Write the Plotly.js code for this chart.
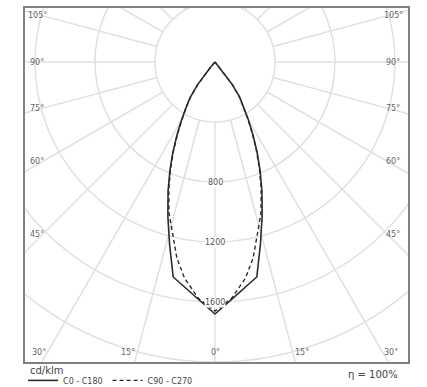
<!DOCTYPE html>
<html><head><meta charset="utf-8">
<script src="https://cdn.plot.ly/plotly-3.0.1.min.js"></script>
<style>html,body{margin:0;padding:0;background:#fff}</style>
</head><body><div id="chart" style="width:427px;height:387px"></div>
<script>
// gamma angles (deg) and luminous intensity (cd/klm)
const gammaDeg = [0, 4, 8, 11, 14, 17, 20, 22.5, 25, 27.5, 30, 32.5, 35, 37.5, 40, 42.5];
const c0c180  = [1680, 1586, 1508, 1460, 1252, 1075, 915, 786, 665, 549, 445, 357, 288, 190, 50, 0];
const c90c270 = [1660, 1580, 1456, 1332, 1174, 1050, 900, 775, 655, 540, 438, 352, 282, 185, 48, 0];
const radialRings = [400, 800, 1200, 1600, 2000, 2400];
const radialLabels = [800, 1200, 1600];
const spokeAngles = [0,15,30,45,60,75,90,105,120,135,150,165,180,195,210,225,240,255,270,285,300,315,330,345];
const angleLabels = [0, 15, 30, 45, 60, 75, 90, 105];
const seriesNames = ['C0 - C180', 'C90 - C270'];

const PX = 0.15; // px per cd/klm unit (used only for label placement)
const rad = d => d * Math.PI / 180;

function planeXY(vals) {
  const x = [], y = [];
  for (let i = gammaDeg.length - 1; i >= 0; i--) { // C180 side (left)
    x.push(-vals[i] * Math.sin(rad(gammaDeg[i]))); y.push(-vals[i] * Math.cos(rad(gammaDeg[i])));
  }
  for (let i = 1; i < gammaDeg.length; i++) {       // C0 side (right)
    x.push(vals[i] * Math.sin(rad(gammaDeg[i]))); y.push(-vals[i] * Math.cos(rad(gammaDeg[i])));
  }
  return {x, y};
}

const gridCol = '#e0e0e0';
const sx = [], sy = [];
spokeAngles.forEach(a => {
  const s = Math.sin(rad(a)), c = -Math.cos(rad(a));
  sx.push(400 * s, 3200 * s, null); sy.push(400 * c, 3200 * c, null);
});

const p1 = planeXY(c0c180), p2 = planeXY(c90c270);
const traces = [
  {x: sx, y: sy, mode: 'lines', line: {color: gridCol, width: 1.5}, hoverinfo: 'skip', showlegend: false},
  {x: p1.x, y: p1.y, mode: 'lines', name: seriesNames[0], line: {color: '#2b2b2b', width: 1.6}},
  {x: p2.x, y: p2.y, mode: 'lines', name: seriesNames[1], line: {color: '#2b2b2b', width: 1.4, dash: '4px,3px'}}
];

const shapes = radialRings.map(r => ({type: 'circle', xref: 'x', yref: 'y', x0: -r, x1: r, y0: -r, y1: r,
  line: {color: gridCol, width: 1.5}, layer: 'below'}));

const annotations = [];
radialLabels.forEach(r => annotations.push({x: 0, y: -r, xref: 'x', yref: 'y', text: String(r), showarrow: false,
  bgcolor: '#ffffff', borderpad: 0, font: {size: 8, color: '#555'}}));

const lblFont = {size: 8, color: '#666'};
angleLabels.forEach(a => {
  [-1, 1].forEach(side => {
    if (a === 0 && side === 1) return;
    let x, y, xa = 'center';
    if (a <= 30) {
      y = -290 / PX;
      x = side * Math.min(290 * Math.tan(rad(a)), 168) / PX;
      if (a > 0) xa = side < 0 ? 'right' : 'left';
    } else {
      y = (-172 / Math.tan(rad(a))) / PX;
      x = side * 178 / PX;
    }
    annotations.push({x, y, xref: 'x', yref: 'y', text: a + '°', showarrow: false, xanchor: xa, font: lblFont});
  });
});
annotations.push({xref: 'paper', yref: 'paper', x: 0.008, y: -0.024, xanchor: 'left', yanchor: 'middle',
  text: 'cd/klm', showarrow: false, font: {size: 10, color: '#444'}});
annotations.push({xref: 'paper', yref: 'paper', x: 0.98, y: -0.034, xanchor: 'right', yanchor: 'middle',
  text: 'η = 100%', showarrow: false, font: {size: 10, color: '#444'}});

const layout = {
  width: 427, height: 387,
  margin: {l: 25, r: 19, t: 8, b: 25, autoexpand: false},
  paper_bgcolor: '#fff', plot_bgcolor: '#fff',
  font: {family: 'DejaVu Sans, sans-serif'},
  xaxis: {range: [-190 / PX, 193 / PX], showgrid: false, zeroline: false, showticklabels: false, ticks: '',
          showline: true, mirror: true, linecolor: '#808080', linewidth: 2, fixedrange: true},
  yaxis: {range: [-300 / PX, 54 / PX], showgrid: false, zeroline: false, showticklabels: false, ticks: '',
          showline: true, mirror: true, linecolor: '#808080', linewidth: 2, fixedrange: true},
  showlegend: true,
  legend: {orientation: 'h', x: -0.005, xanchor: 'left', y: -0.011, yanchor: 'top',
           font: {size: 8, color: '#444'}, bgcolor: 'rgba(0,0,0,0)', itemwidth: 30, tracegroupgap: 0,
           borderwidth: 0},
  shapes, annotations
};
Plotly.newPlot('chart', traces, layout, {displayModeBar: false, staticPlot: true});
</script></body></html>
